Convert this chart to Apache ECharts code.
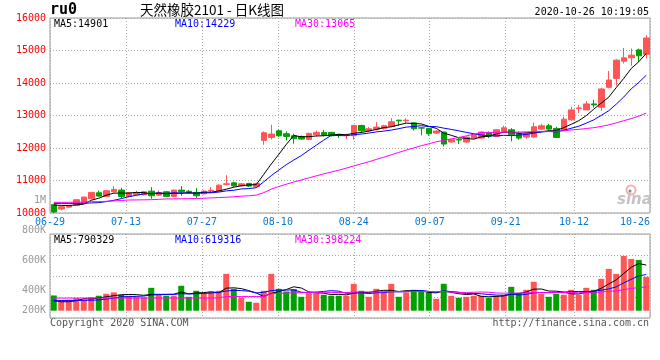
<!DOCTYPE html>
<html><head><meta charset="utf-8">
<script src="https://cdn.jsdelivr.net/npm/echarts/dist/echarts.min.js"></script>
<style>html,body{margin:0;padding:0;background:#fff}#c{width:660px;height:360px}</style>
</head><body><div id="c"></div>
<script>
// ---- data ----
const dates = [
 '06-29','06-30','07-01','07-02','07-03','07-06','07-07','07-08','07-09','07-10',
 '07-13','07-14','07-15','07-16','07-17','07-20','07-21','07-22','07-23','07-24',
 '07-27','07-28','07-29','07-30','07-31','08-03','08-04','08-05','08-06','08-07',
 '08-10','08-11','08-12','08-13','08-14','08-17','08-18','08-19','08-20','08-21',
 '08-24','08-25','08-26','08-27','08-28','08-31','09-01','09-02','09-03','09-04',
 '09-07','09-08','09-09','09-10','09-11','09-14','09-15','09-16','09-17','09-18',
 '09-21','09-22','09-23','09-24','09-25','09-28','09-29','09-30','10-09','10-12',
 '10-13','10-14','10-15','10-16','10-19','10-20','10-21','10-22','10-23','10-26'];
const opens = [
 10255,10123,10180,10235,10306,10440,10622,10510,10653,10704,
 10510,10560,10561,10673,10550,10653,10510,10704,10670,10633,
 10592,10680,10673,10880,10929,10837,10908,10810,12235,12326,
 12530,12439,12377,12357,12265,12408,12480,12480,12418,12380,
 12377,12694,12530,12580,12602,12663,12857,12837,12775,12620,
 12602,12459,12490,12184,12265,12184,12306,12306,12459,12357,
 12510,12561,12439,12337,12337,12581,12683,12602,12561,12867,
 13214,13173,13357,13255,13867,14142,14672,14774,15019,14887];
const closes = [
 10030,10194,10230,10408,10490,10633,10520,10684,10725,10510,
 10622,10630,10653,10530,10633,10510,10704,10653,10640,10530,
 10673,10700,10857,10900,10837,10898,10827,10910,12469,12428,
 12377,12357,12286,12275,12449,12480,12398,12377,12400,12390,
 12694,12530,12592,12643,12683,12806,12836,12857,12592,12612,
 12439,12520,12122,12255,12245,12337,12398,12490,12357,12561,
 12622,12408,12306,12439,12653,12683,12581,12326,12887,13173,
 13234,13357,13326,13816,14091,14703,14774,14856,14836,15386];
const lows = [
 10000,10082,10160,10220,10290,10420,10500,10490,10630,10460,
 10480,10540,10540,10439,10530,10490,10490,10530,10600,10460,
 10570,10612,10660,10847,10800,10810,10800,10790,12100,12265,
 12340,12235,12133,12250,12240,12357,12357,12357,12306,12275,
 12255,12459,12490,12540,12561,12643,12683,12765,12540,12388,
 12377,12439,12050,12170,12122,12170,12290,12286,12306,12340,
 12490,12204,12255,12286,12306,12550,12530,12306,12530,12836,
 13071,13173,13244,13142,13836,13918,14601,14530,14652,14754];
const highs = [
 10270,10225,10250,10430,10500,10650,10690,10700,10827,10776,
 10650,10680,10680,10796,10690,10680,10720,10827,10710,10766,
 10700,10796,10880,11163,10960,10910,10930,10930,12510,12714,
 12570,12510,12439,12380,12470,12540,12560,12500,12439,12439,
 12714,12714,12643,12796,12714,12918,12867,12918,12785,12643,
 12610,12550,12500,12280,12306,12350,12420,12510,12510,12580,
 12683,12612,12510,12490,12785,12745,12745,12653,12969,13275,
 13326,13448,13479,13856,14366,14734,15080,15060,15060,15468];
const volumes = [
 262000,177000,188000,217000,194000,234000,257000,291000,314000,274000,
 257000,245000,234000,393000,274000,257000,257000,428000,239000,342000,
 291000,325000,342000,633000,376000,222000,154000,137000,342000,633000,
 376000,331000,371000,239000,302000,314000,274000,257000,257000,257000,
 462000,342000,239000,376000,331000,462000,239000,314000,359000,342000,
 314000,205000,462000,257000,222000,239000,257000,257000,222000,257000,
 274000,410000,308000,359000,496000,291000,239000,291000,274000,359000,
 274000,393000,359000,547000,718000,633000,941000,889000,872000,581000];
const ma5Head = [10244,10234,10230,10250];
const ma10Head = [10296,10296,10296,10296,10300,10310,10320,10350,10390];
const ma30Head = [10328,10328,10330,10330,10335,10349,10350,10360,10370,10385,
 10400,10402,10405,10410,10420,10433,10435,10437,10440,10445,
 10455,10465,10475,10485,10500,10517,10530,10550,10625];
const volMa5Head = [171000,154000,154000,171000];
const volMa10Head = [177000,177000,177000,177000,178000,180000,185000,200000,215000];
const volMa30Head = [217000,217000,217000,217000,217000,217000,217000,217000,217000,217000,
 217000,217000,217000,217000,217000,217000,217000,217000,217000,217000,
 217000,217000,220000,245000,245000,245000,245000,245000,245000];
const xLabelDates = ['06-29','07-13','07-27','08-10','08-24','09-07','09-21','10-12','10-26'];
const mainLegend = ['MA5:14901','MA10:14229','MA30:13065'];
const volLegend = ['MA5:790329','MA10:619316','MA30:398224'];
const titleCode = 'ru0';
const titleText = '天然橡胶2101 - 日K线图';
const stampText = '2020-10-26 10:19:05';
const footLeft = 'Copyright 2020 SINA.COM';
const footRight = 'http://finance.sina.com.cn';

// ---- build ----
function movingAverage(vals, n, head) {
  return vals.map((v, i) => {
    if (i < head.length) return head[i];
    let s = 0; for (let k = i - n + 1; k <= i; k++) s += vals[k];
    return Math.round(s / n);
  });
}
const RED = '#ff5555', GREEN = '#00a000';
const MONO = 'DejaVu Sans Mono';
const labelIdx = xLabelDates.map(d => dates.indexOf(d));
const isLabel = (i) => labelIdx.indexOf(i) >= 0;
const candleData = dates.map((d, i) => [opens[i], closes[i], lows[i], highs[i]]);
const volData = volumes.map((v, i) => ({value: v, itemStyle: {color: closes[i] >= opens[i] ? RED : GREEN}}));
const dotted = {color: '#aaa', type: [1, 2], width: 1};
const lineS = (name, data, color, xi, yi) => ({
  name, type: 'line', data, xAxisIndex: xi, yAxisIndex: yi, showSymbol: false, symbol: 'none',
  lineStyle: {width: 1, color}, itemStyle: {color}, z: 5, silent: true
});
const txt = (text, left, top, color, extra) => Object.assign({
  type: 'text', left, top, style: Object.assign({text, fill: color, font: '10px "DejaVu Sans Mono"'}, extra || {})
});

const option = {
  animation: false,
  backgroundColor: '#fff',
  grid: [
    {left: 50, top: 18, width: 600, height: 195, show: true, borderColor: '#999', borderWidth: 1},
    {left: 50, top: 234, width: 600, height: 84, show: true, borderColor: '#999', borderWidth: 1},
    {left: 50, top: 200.5, width: 600, height: 120, show: false}
  ],
  xAxis: [
    {type: 'category', gridIndex: 0, data: dates, boundaryGap: true, show: false},
    {type: 'category', gridIndex: 0, data: dates, boundaryGap: false, position: 'bottom',
     axisLine: {show: false}, axisTick: {show: false},
     axisLabel: {interval: isLabel, color: '#0a78d2', fontFamily: MONO, fontSize: 10, margin: 4, alignMaxLabel: 'right'},
     splitLine: {show: true, interval: isLabel, lineStyle: dotted}},
    {type: 'category', gridIndex: 1, data: dates, boundaryGap: true, show: false},
    {type: 'category', gridIndex: 1, data: dates, boundaryGap: false,
     axisLine: {show: false}, axisTick: {show: false}, axisLabel: {show: false},
     splitLine: {show: true, interval: isLabel, lineStyle: dotted}},
    {type: 'category', gridIndex: 2, data: dates, show: false}
  ],
  yAxis: [
    {type: 'value', gridIndex: 0, min: 10000, max: 16000, interval: 1000,
     axisLine: {show: false}, axisTick: {show: false},
     axisLabel: {color: '#ff0000', fontFamily: MONO, fontSize: 10, margin: 4, padding: [0, 0, 4, 0],
       formatter: (v) => String(v)},
     splitLine: {show: true, lineStyle: dotted}},
    {type: 'value', gridIndex: 1, min: -125000, max: 1317000, show: false},
    {type: 'value', gridIndex: 1, min: 0, max: 4, interval: 1, position: 'right',
     axisLine: {show: false}, axisTick: {show: false}, axisLabel: {show: false},
     splitLine: {show: true, lineStyle: dotted}},
    {type: 'value', gridIndex: 2, min: 200000, max: 1000000, interval: 200000,
     axisLine: {show: false}, axisTick: {show: false}, splitLine: {show: false},
     axisLabel: {color: '#999', fontFamily: MONO, fontSize: 10, margin: 4,
       formatter: (v) => {
         const s = v >= 1000000 ? (v / 1000000) + 'M' : (v / 1000) + 'K';
         return v === 200000 ? '{lo|' + s + '}' : s;
       },
       rich: {lo: {color: '#999', fontFamily: MONO, fontSize: 10, padding: [0, 0, 20, 0]}}}}
  ],
  series: [
    {type: 'candlestick', data: candleData, xAxisIndex: 0, yAxisIndex: 0, barWidth: 6,
     itemStyle: {color: RED, color0: GREEN, borderColor: RED, borderColor0: GREEN, borderWidth: 1}, z: 3},
    lineS('MA5', movingAverage(closes, 5, ma5Head), '#000000', 0, 0),
    lineS('MA10', movingAverage(closes, 10, ma10Head), '#0000ff', 0, 0),
    lineS('MA30', movingAverage(closes, 30, ma30Head), '#ff00ff', 0, 0),
    {type: 'bar', data: volData, xAxisIndex: 2, yAxisIndex: 1, barWidth: 6, z: 3},
    lineS('VMA5', movingAverage(volumes, 5, volMa5Head), '#000000', 2, 1),
    lineS('VMA10', movingAverage(volumes, 10, volMa10Head), '#0000ff', 2, 1),
    lineS('VMA30', movingAverage(volumes, 30, volMa30Head), '#ff00ff', 2, 1)
  ],
  graphic: [
    txt(titleCode, 50, 3, '#000', {font: 'bold 15px "DejaVu Sans Mono"'}),
    txt(titleText, 140, 3, '#000', {font: '13.5px "Noto Sans CJK SC"'}),
    {type: 'text', right: 11, top: 7, style: {text: stampText, fill: '#000', font: '10px "DejaVu Sans Mono"'}},
    txt(mainLegend[0], 54, 19, '#000000'),
    txt(mainLegend[1], 175, 19, '#0000ff'),
    txt(mainLegend[2], 295, 19, '#ff00ff'),
    txt(volLegend[0], 54, 235, '#000000'),
    txt(volLegend[1], 175, 235, '#0000ff'),
    txt(volLegend[2], 295, 235, '#ff00ff'),
    txt(footLeft, 50, 318, '#555'),
    {type: 'text', right: 11, top: 318, style: {text: footRight, fill: '#555', font: '10px "DejaVu Sans Mono"'}},
    {type: 'circle', shape: {cx: 631, cy: 190, r: 4.5}, style: {fill: 'none', stroke: '#f6b0b0', lineWidth: 2}, silent: true},
    {type: 'circle', shape: {cx: 630, cy: 191, r: 1.5}, style: {fill: '#888'}, silent: true},
    {type: 'text', left: 617, top: 193, style: {text: 'sina', fill: '#c4c4c4', font: 'italic bold 15px "DejaVu Sans"'}, silent: true}
  ]
};
const chart = echarts.init(document.getElementById('c'), null, {renderer: 'canvas'});
chart.setOption(option);
</script>
</body></html>
